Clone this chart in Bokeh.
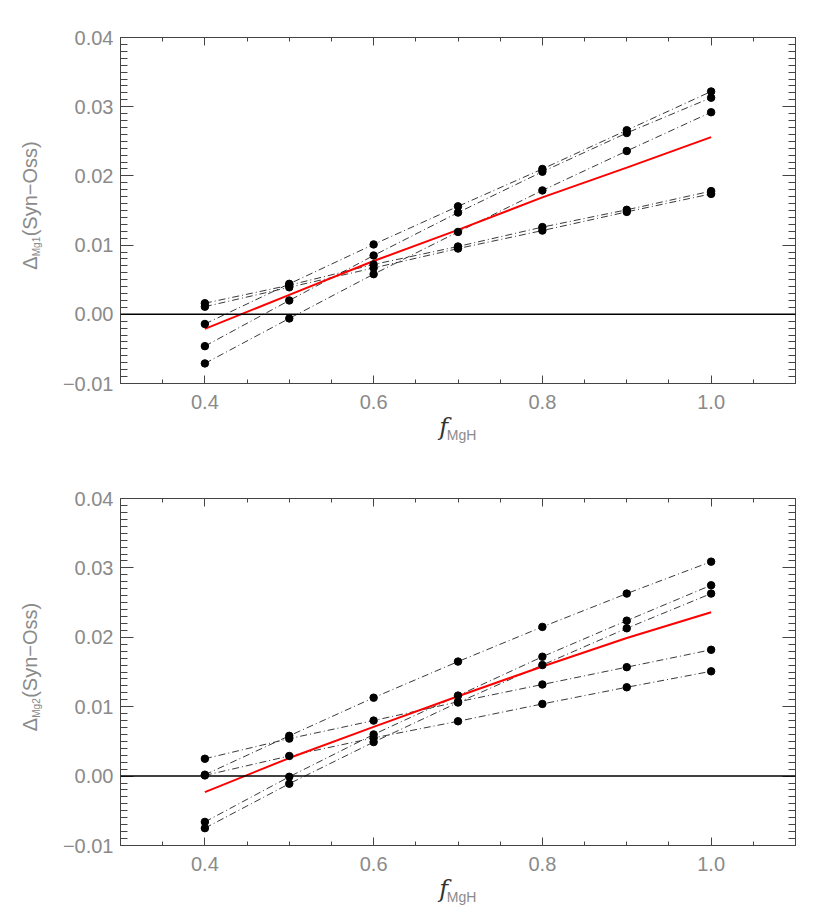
from bokeh.plotting import figure
from bokeh.models import FixedTicker, LinearAxis, Span, Range1d, CustomJSTickFormatter
from bokeh.layouts import column
from bokeh.embed import file_html
from bokeh.resources import INLINE

# ---------------- data ----------------
f_mgh = [0.4, 0.5, 0.6, 0.7, 0.8, 0.9, 1.0]

mg1_a = [-0.0014, 0.0044, 0.0101, 0.0156, 0.0210, 0.0266, 0.0322]
mg1_b = [-0.0046, 0.0020, 0.0085, 0.0147, 0.0206, 0.0262, 0.0313]
mg1_c = [-0.0071, -0.0006, 0.0058, 0.0119, 0.0179, 0.0236, 0.0292]
mg1_d = [0.0016, 0.0042, 0.0072, 0.0098, 0.0126, 0.0151, 0.0178]
mg1_e = [0.0011, 0.0039, 0.0067, 0.0095, 0.0121, 0.0148, 0.0174]
mg1_mean = [-0.0021, 0.0028, 0.0077, 0.0122, 0.0169, 0.0212, 0.0256]

mg2_a = [0.0002, 0.0058, 0.0113, 0.0165, 0.0215, 0.0263, 0.0309]
mg2_b = [-0.0066, -0.0001, 0.0060, 0.0116, 0.0172, 0.0224, 0.0275]
mg2_c = [-0.0075, -0.0011, 0.0049, 0.0106, 0.0160, 0.0213, 0.0263]
mg2_d = [0.0025, 0.0054, 0.0080, 0.0107, 0.0132, 0.0157, 0.0182]
mg2_e = [0.0001, 0.0029, 0.0055, 0.0079, 0.0104, 0.0128, 0.0151]
mg2_mean = [-0.0023, 0.0026, 0.0071, 0.0115, 0.0158, 0.0199, 0.0236]

x_major = [0.4, 0.6, 0.8, 1.0]
x_minor = [0.3, 0.35, 0.4, 0.45, 0.5, 0.55, 0.6, 0.65, 0.7, 0.75, 0.8, 0.85, 0.9, 0.95, 1.0, 1.05, 1.1]
y_major = [-0.01, 0.0, 0.01, 0.02, 0.03, 0.04]
y_minor = [round(-0.01 + 0.001 * i, 3) for i in range(51)]
X_DECIMALS = 1
Y_DECIMALS = 2

# axis titles (whitespace characters position the pieces)
x_title_main = "f\u2003\u2009"
x_title_sub = "\u2002MgH"
y_title_main = "\u2002\u0394\u2003(Syn\u2212Oss)"
y_title_subs = ["Mg1", "Mg2"]
Y_SUB_PAD = "\u2003" * 7 + "\u2009"

X_RANGE = (0.3, 1.1)
Y_RANGE = (-0.01, 0.04)

TICK_FONT = "Liberation Sans"
LABEL_GRAY = "#8a8a8a"
AXIS_GRAY = "#444444"
TICK_GRAY = "#444444"


def fmt(decimals):
    return CustomJSTickFormatter(
        args=dict(d=decimals),
        code="return tick.toFixed(d).replace('-', '\\u2212')")


def tick_axis(ax, is_x):
    """Axis that carries only the inward major/minor ticks and the axis line."""
    ax.axis_line_color = AXIS_GRAY
    ax.major_tick_line_color = TICK_GRAY
    ax.minor_tick_line_color = TICK_GRAY
    ax.major_tick_out = 0
    ax.minor_tick_out = 0
    if is_x:
        ax.major_tick_in = 8
        ax.minor_tick_in = 4
    else:
        ax.major_tick_in = 13
        ax.minor_tick_in = 7
    ax.major_label_text_font = TICK_FONT
    ax.major_label_text_font_size = "1px"
    ax.major_label_text_color = None
    ax.major_label_standoff = 0


def label_axis(is_x):
    """Axis that carries only the tick labels."""
    ticks = x_major if is_x else y_major
    ax = LinearAxis(ticker=FixedTicker(ticks=ticks, minor_ticks=[]))
    ax.axis_line_color = None
    ax.major_tick_in = 0
    ax.major_tick_out = 0
    ax.minor_tick_in = 0
    ax.minor_tick_out = 0
    ax.formatter = fmt(X_DECIMALS if is_x else Y_DECIMALS)
    ax.major_label_text_font = TICK_FONT
    ax.major_label_text_font_size = "20px"
    ax.major_label_text_color = LABEL_GRAY
    ax.major_label_standoff = 11 if is_x else 7
    return ax


def title_axis(text, font, size, style, color, standoff):
    ax = LinearAxis(ticker=FixedTicker(ticks=[], minor_ticks=[]))
    ax.axis_line_color = None
    ax.major_tick_out = 0
    ax.major_tick_in = 0
    ax.minor_tick_out = 0
    ax.minor_tick_in = 0
    ax.major_label_standoff = 0
    ax.axis_label = text
    ax.axis_label_text_font = font
    ax.axis_label_text_font_size = size
    ax.axis_label_text_font_style = style
    ax.axis_label_text_color = color
    ax.axis_label_standoff = standoff
    return ax


def make_panel(series, mean, sub, height, top_border, bottom_border):
    p = figure(width=815, height=height,
               x_range=Range1d(*X_RANGE), y_range=Range1d(*Y_RANGE),
               output_backend="svg", toolbar_location=None,
               min_border_left=120, min_border_right=20,
               min_border_top=top_border, min_border_bottom=bottom_border)
    p.grid.visible = False
    p.outline_line_color = AXIS_GRAY

    p.xaxis.ticker = FixedTicker(ticks=x_major, minor_ticks=x_minor)
    p.yaxis.ticker = FixedTicker(ticks=y_major, minor_ticks=y_minor)
    tick_axis(p.xaxis[0], True)
    tick_axis(p.yaxis[0], False)

    # bottom: tick labels, italic f, subscript MgH
    p.add_layout(label_axis(True), "below")
    p.add_layout(title_axis(x_title_main, "DejaVu Serif", "24px", "italic", "#333333", 1), "below")
    p.add_layout(title_axis(x_title_sub, TICK_FONT, "14px", "normal", LABEL_GRAY, -17), "below")

    # left: tick labels, subscript, Delta(Syn-Oss)
    p.add_layout(label_axis(False), "left")
    p.add_layout(title_axis(sub + Y_SUB_PAD, TICK_FONT, "10px", "normal", LABEL_GRAY, 18), "left")
    p.add_layout(title_axis(y_title_main, TICK_FONT, "20px", "normal", LABEL_GRAY, -13), "left")

    top = LinearAxis(ticker=FixedTicker(ticks=x_major, minor_ticks=x_minor))
    tick_axis(top, True)
    p.add_layout(top, "above")
    right = LinearAxis(ticker=FixedTicker(ticks=y_major, minor_ticks=y_minor))
    tick_axis(right, False)
    p.add_layout(right, "right")

    p.add_layout(Span(location=0, dimension="width", line_color="black", line_width=1.5))

    for s in series:
        p.line(f_mgh, s, line_color="#222222", line_width=0.9, line_dash="7 3 1 3")
    p.line(f_mgh, mean, line_color="red", line_width=2)
    for s in series:
        p.scatter(f_mgh, s, size=7.5, fill_color="black", line_color="black")
    return p


p1 = make_panel([mg1_a, mg1_b, mg1_c, mg1_d, mg1_e], mg1_mean, y_title_subs[0], 460, 37, 77)
p2 = make_panel([mg2_a, mg2_b, mg2_c, mg2_d, mg2_e], mg2_mean, y_title_subs[1], 453, 38, 68)

layout = column(p1, p2, spacing=0)
open("out.html", "w").write(file_html(layout, INLINE))
